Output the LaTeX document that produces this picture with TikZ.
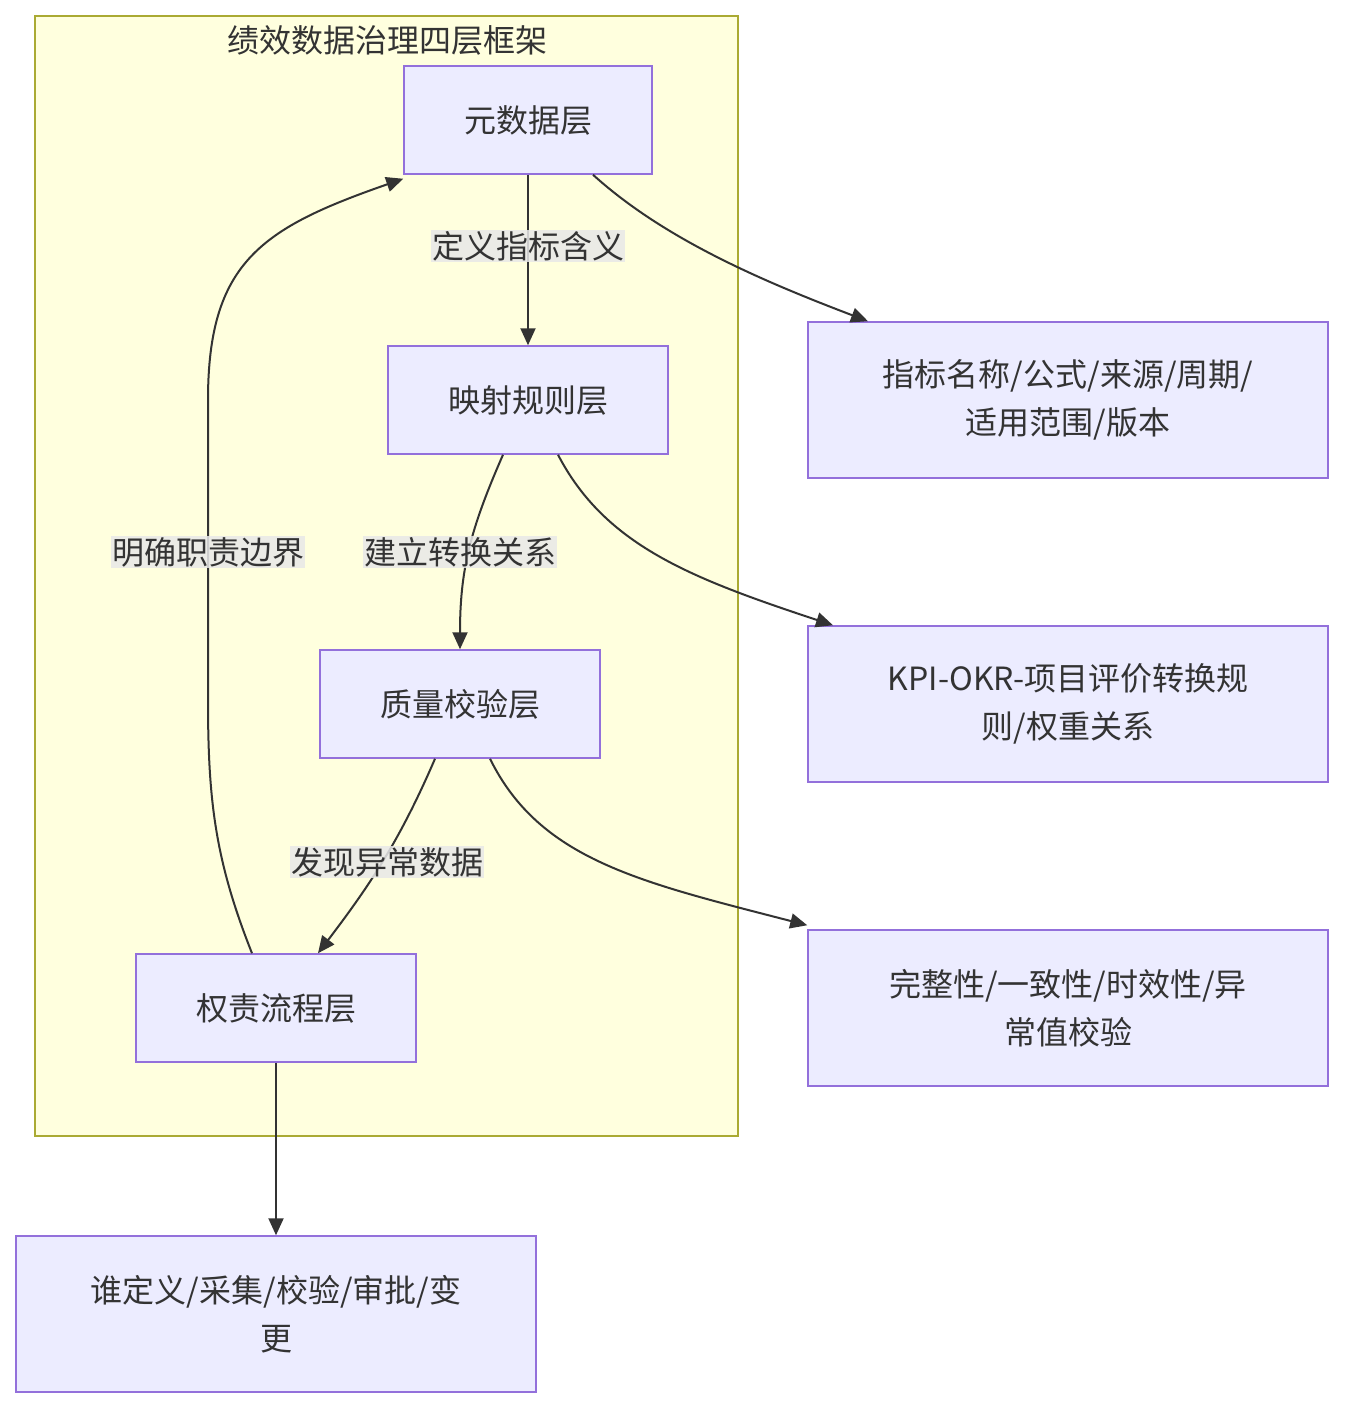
\documentclass[tikz,border=0pt]{standalone}
\usepackage{fontspec}
\setmainfont{Noto Sans CJK SC}
\usetikzlibrary{arrows.meta}
\definecolor{nodefill}{HTML}{ECECFF}
\definecolor{nodeline}{HTML}{9370DB}
\definecolor{clusterfill}{HTML}{FFFFDE}
\definecolor{clusterline}{HTML}{AAAA33}
\definecolor{txt}{HTML}{333333}
\definecolor{lblbg}{HTML}{E8E8E8}
\tikzset{
  box/.style={draw=nodeline, fill=nodefill, line width=1.5pt, text=txt, align=center, inner sep=0pt, font=\fontsize{32}{48}\selectfont},
  layerbox/.style={box, minimum width=280pt, minimum height=108pt},
  infobox/.style={box, minimum width=520pt, minimum height=156pt},
  conn/.style={draw=txt, line width=2pt, -{Triangle[length=17pt,width=15pt]}},
  lbl/.style={fill=lblbg, fill opacity=0.85, text opacity=1, text=txt, inner sep=1pt, font=\fontsize{32}{40}\selectfont}
}
\begin{document}
\begin{tikzpicture}[x=1pt,y=-1pt]
\useasboundingbox (0,0) rectangle (1344,1408);
\fill[white] (0,0) rectangle (1344,1408);
\draw[draw=clusterline, fill=clusterfill, line width=1.5pt] (35,16) rectangle (738,1136);
\node[text=txt, font=\fontsize{32}{40}\selectfont] (title) at (387,40) {绩效数据治理四层框架};

\node[layerbox, minimum width=248pt] (meta) at (528,120) {元数据层};
\node[layerbox] (map) at (528,400) {映射规则层};
\node[layerbox] (qual) at (460,704) {质量校验层};
\node[layerbox] (resp) at (276,1008) {权责流程层};

\node[infobox] (metainfo) at (1068,400) {指标名称/公式/来源/周期/\\适用范围/版本};
\node[infobox] (mapinfo) at (1068,704) {KPI-OKR-项目评价转换规\\则/权重关系};
\node[infobox] (qualinfo) at (1068,1008) {完整性/一致性/时效性/异\\常值校验};
\node[infobox] (respinfo) at (276,1314) {谁定义/采集/校验/审批/变\\更};

% main chain
\draw[conn] (meta.south) -- (map.north);
\draw[conn] ([xshift=-25pt]map.south) .. controls (470,530) and (460,570) .. (qual.north);
\draw[conn] ([xshift=-25pt]qual.south) .. controls (400,840) and (370,885) .. ([xshift=42pt]resp.north);
\draw[conn] ([xshift=-24pt]resp.north) .. controls (215,860) and (208,800) .. (208,700) -- (208,400) .. controls (208,262) and (262,228) .. ([yshift=-4pt]meta.south west);

% details
\draw[conn] ([xshift=65pt]meta.south) .. controls (665,240) and (765,282) .. ([xshift=-200pt]metainfo.north);
\draw[conn] ([xshift=30pt]map.south) .. controls (605,545) and (690,578) .. ([xshift=-235pt]mapinfo.north);
\draw[conn] ([xshift=30pt]qual.south) .. controls (540,860) and (640,882) .. ([yshift=4pt]qualinfo.north west);
\draw[conn] (resp.south) -- (respinfo.north);

% labels
\node[lbl] (l1) at (528,246) {定义指标含义};
\node[lbl] (l2) at (460,552) {建立转换关系};
\node[lbl] (l3) at (387,862) {发现异常数据};
\node[lbl] (l4) at (208,552) {明确职责边界};
\end{tikzpicture}
\end{document}
